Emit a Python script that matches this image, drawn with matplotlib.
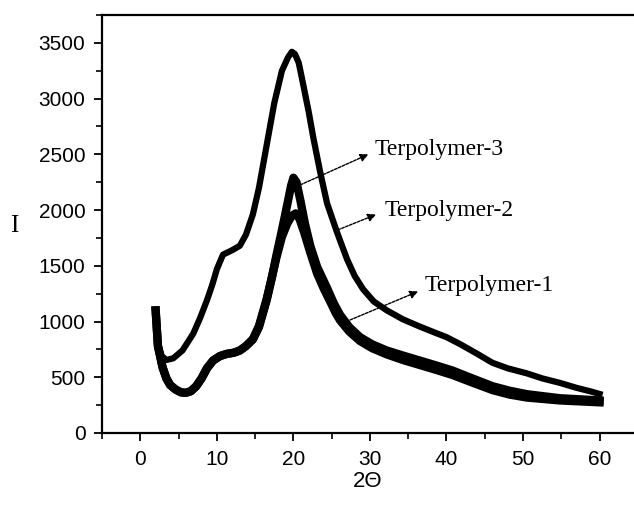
import numpy as np
import matplotlib
matplotlib.use("Agg")
import matplotlib.pyplot as plt
from matplotlib.ticker import MultipleLocator

# 2-theta / intensity points
x3 = [2.0, 2.3, 2.8, 3.4, 4.3, 5.5, 6.9, 7.8, 8.7, 9.4, 10.0, 10.8, 12.0, 13.0, 13.8, 14.7,
      15.5, 16.5, 17.5, 18.5, 19.3, 19.8, 20.2, 20.7, 21.3, 22.0, 22.6, 23.5, 24.4, 25.7,
      27.0, 28.0, 29.1, 30.5, 32.2, 34.3, 36.5, 38.5, 40.0, 41.7, 43.9, 46.0, 48.0, 50.5,
      52.5, 54.8, 57.0, 59.0, 60.0]
y3 = [1100, 800, 690, 655, 670, 740, 890, 1030, 1190, 1330, 1470, 1600, 1640, 1680, 1780, 1960,
      2200, 2580, 2960, 3250, 3370, 3420, 3400, 3320, 3120, 2880, 2650, 2340, 2060, 1800,
      1560, 1410, 1290, 1180, 1100, 1020, 955, 900, 860, 800, 715, 630, 580, 535,
      490, 450, 405, 370, 350]

x2 = [2.0, 2.3, 2.9, 3.4, 3.9, 4.6, 5.3, 5.9, 6.6, 7.3, 8.0, 8.7, 9.5, 10.4, 11.3, 12.2, 13.0,
      13.8, 14.7, 15.5, 16.5, 17.2, 17.8, 18.5, 19.2, 19.7, 20.0, 20.4, 20.9, 21.5, 22.2,
      23.1, 24.4, 25.3, 26.1, 27.3, 28.7, 30.3, 32.2, 34.3, 36.5, 38.7, 40.8, 43.0, 46.0,
      48.2, 50.5, 54.8, 60.0]
y2 = [1100, 780, 590, 490, 430, 390, 365, 360, 375, 420, 490, 580, 650, 690, 710, 720, 740,
      780, 840, 950, 1190, 1400, 1600, 1820, 2050, 2220, 2290, 2250, 2090, 1880, 1680,
      1490, 1300, 1160, 1060, 950, 860, 795, 740, 695, 650, 605, 560, 500, 420,
      380, 348, 312, 292]

x1 = [2.0, 2.3, 2.9, 3.4, 3.9, 4.6, 5.3, 5.9, 6.6, 7.3, 8.0, 8.7, 9.5, 10.4, 11.3, 12.2, 13.0,
      13.8, 14.7, 15.5, 16.5, 17.2, 17.8, 18.5, 19.2, 19.8, 20.3, 20.8, 21.4, 22.2, 23.1,
      24.0, 24.8, 25.5, 26.1, 27.3, 28.7, 30.3, 32.2, 34.3, 36.5, 38.7, 40.8, 43.0, 46.0,
      48.2, 50.5, 54.8, 60.0]
y1 = [1100, 780, 590, 490, 430, 390, 365, 360, 375, 420, 490, 580, 650, 690, 710, 720, 740,
      780, 840, 960, 1200, 1400, 1580, 1760, 1880, 1950, 1970, 1920, 1800, 1620, 1430,
      1290, 1180, 1080, 1010, 910, 825, 760, 705, 655, 610, 565, 520, 462, 385,
      345, 318, 292, 275]

labels = ["Terpolymer-3", "Terpolymer-2", "Terpolymer-1"]
label_xy = [(30.6, 2540), (31.9, 1993), (37.2, 1320)]
arrow_tail = [(20.9, 2226), (25.8, 1822), (27.4, 1014)]
arrow_head = [(29.8, 2500), (30.8, 1960), (36.3, 1270)]

fig = plt.figure(figsize=(6.34, 5.05), dpi=100)
ax = fig.add_axes([0.161, 0.1426, 0.839, 0.8277])

ax.plot(x3, y3, color="black", lw=4.5, solid_joinstyle="round")
ax.plot(x2, y2, color="black", lw=6, solid_joinstyle="round")
ax.plot(x1, y1, color="black", lw=6, solid_joinstyle="round")

for lab, xy, t, h in zip(labels, label_xy, arrow_tail, arrow_head):
    ax.annotate("", xy=h, xytext=t,
                arrowprops=dict(arrowstyle="-|>", linestyle=(0, (2, 1)), lw=1.0,
                                color="black", mutation_scale=12, shrinkA=0, shrinkB=0))
    ax.text(xy[0], xy[1], lab, family="Liberation Serif", fontsize=17,
            va="center", ha="left")

ax.set_xlim(-5, 64.5)
ax.set_ylim(0, 3750)
ax.xaxis.set_major_locator(MultipleLocator(10))
ax.xaxis.set_minor_locator(MultipleLocator(5))
ax.yaxis.set_major_locator(MultipleLocator(500))
ax.yaxis.set_minor_locator(MultipleLocator(250))
ax.tick_params(which="major", direction="out", length=6, width=1.3, labelsize=15, pad=6)
ax.tick_params(which="minor", direction="out", length=4, width=1.2)
for lbl in ax.get_xticklabels() + ax.get_yticklabels():
    lbl.set_family("Liberation Sans")
for s in ["left", "bottom", "top"]:
    ax.spines[s].set_linewidth(1.6)
ax.spines["right"].set_visible(False)

ax.set_xlabel("2Θ", family="Liberation Sans", fontsize=16, labelpad=2)
ax.set_ylabel("I", family="Liberation Serif", fontsize=18, rotation=0)
ax.yaxis.set_label_coords(-0.165, 0.47)

fig.savefig("out.png", dpi=100)
